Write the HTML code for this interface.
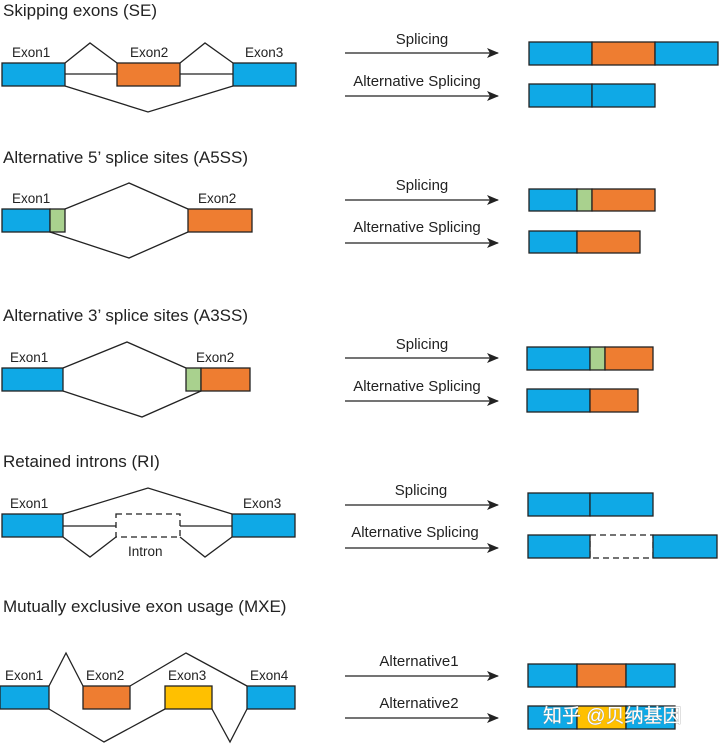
<!DOCTYPE html>
<html><head><meta charset="utf-8"><style>
html,body{margin:0;padding:0;background:#fff}
svg text{font-family:"Liberation Sans",Arial,sans-serif;fill:#222}
</style></head><body>
<svg width="720" height="744" viewBox="0 0 720 744" xmlns="http://www.w3.org/2000/svg">
<defs>
<marker id="ah" markerWidth="12" markerHeight="10" refX="11" refY="5" orient="auto" markerUnits="userSpaceOnUse">
<path d="M0,0 L12,5 L0,10 L3,5 Z" fill="#222"/></marker>
</defs>
<g stroke="#222" stroke-width="1.3" fill="none">
<polyline points="65,63 90,43 117,63"/><polyline points="180,63 205,43 233,63"/>
<line x1="65" y1="74" x2="117" y2="74"/><line x1="180" y1="74" x2="233" y2="74"/>
<polyline points="65,86 148,112 233,86"/>
<polyline points="65,209 129,183 188,209"/><polyline points="50,232 129,258 188,232"/>
<polyline points="63,368 127,342 186,368"/><polyline points="63,391 142,417 201,391"/>
<polyline points="63,514 148,488 232,514"/>
<line x1="63" y1="526" x2="116" y2="526"/><line x1="180" y1="526" x2="232" y2="526"/>
<polyline points="63,537 90,557 116,537"/><polyline points="180,537 205,557 232,537"/>
<rect x="116" y="514" width="64" height="23" stroke-dasharray="6,4"/>
<rect x="590" y="535" width="63" height="23" stroke-dasharray="6,4"/>
<polyline points="49,686 66,653 83,686"/><polyline points="130,686 186,653 247,686"/>
<polyline points="49,709 104,742 165,709"/><polyline points="212,709 230,742 247,709"/>
<g marker-end="url(#ah)">
<line x1="345" y1="53" x2="498" y2="53"/><line x1="345" y1="96" x2="498" y2="96"/>
<line x1="345" y1="200" x2="498" y2="200"/><line x1="345" y1="243" x2="498" y2="243"/>
<line x1="345" y1="358" x2="498" y2="358"/><line x1="345" y1="401" x2="498" y2="401"/>
<line x1="345" y1="505" x2="498" y2="505"/><line x1="345" y1="548" x2="498" y2="548"/>
<line x1="345" y1="676" x2="498" y2="676"/><line x1="345" y1="718" x2="498" y2="718"/>
</g>
</g>
<g stroke="#222" stroke-width="1.3">
<rect x="2" y="63" width="63" height="23" fill="#0fa9e6"/>
<rect x="117" y="63" width="63" height="23" fill="#ee7d31"/>
<rect x="233" y="63" width="63" height="23" fill="#0fa9e6"/>
<rect x="529" y="42" width="63" height="23" fill="#0fa9e6"/><rect x="592" y="42" width="63" height="23" fill="#ee7d31"/><rect x="655" y="42" width="63" height="23" fill="#0fa9e6"/>
<rect x="529" y="84" width="63" height="23" fill="#0fa9e6"/><rect x="592" y="84" width="63" height="23" fill="#0fa9e6"/>
<rect x="2" y="209" width="48" height="23" fill="#0fa9e6"/><rect x="50" y="209" width="15" height="23" fill="#a9d18e"/>
<rect x="188" y="209" width="64" height="23" fill="#ee7d31"/>
<rect x="529" y="189" width="48" height="22" fill="#0fa9e6"/><rect x="577" y="189" width="15" height="22" fill="#a9d18e"/><rect x="592" y="189" width="63" height="22" fill="#ee7d31"/>
<rect x="529" y="231" width="48" height="22" fill="#0fa9e6"/><rect x="577" y="231" width="63" height="22" fill="#ee7d31"/>
<rect x="2" y="368" width="61" height="23" fill="#0fa9e6"/>
<rect x="186" y="368" width="15" height="23" fill="#a9d18e"/><rect x="201" y="368" width="49" height="23" fill="#ee7d31"/>
<rect x="527" y="347" width="63" height="23" fill="#0fa9e6"/><rect x="590" y="347" width="15" height="23" fill="#a9d18e"/><rect x="605" y="347" width="48" height="23" fill="#ee7d31"/>
<rect x="527" y="389" width="63" height="23" fill="#0fa9e6"/><rect x="590" y="389" width="48" height="23" fill="#ee7d31"/>
<rect x="2" y="514" width="61" height="23" fill="#0fa9e6"/><rect x="232" y="514" width="63" height="23" fill="#0fa9e6"/>
<rect x="528" y="493" width="62" height="23" fill="#0fa9e6"/><rect x="590" y="493" width="63" height="23" fill="#0fa9e6"/>
<rect x="528" y="535" width="62" height="23" fill="#0fa9e6"/><rect x="653" y="535" width="64" height="23" fill="#0fa9e6"/>
<rect x="0" y="686" width="49" height="23" fill="#0fa9e6"/><rect x="83" y="686" width="47" height="23" fill="#ee7d31"/>
<rect x="165" y="686" width="47" height="23" fill="#ffc000"/><rect x="247" y="686" width="48" height="23" fill="#0fa9e6"/>
<rect x="528" y="664" width="49" height="23" fill="#0fa9e6"/><rect x="577" y="664" width="49" height="23" fill="#ee7d31"/><rect x="626" y="664" width="49" height="23" fill="#0fa9e6"/>
<rect x="528" y="706" width="49" height="23" fill="#0fa9e6"/><rect x="577" y="706" width="49" height="23" fill="#ffc000"/><rect x="626" y="706" width="49" height="23" fill="#0fa9e6"/>
</g>
<g font-size="17">
<text x="3" y="16">Skipping exons (SE)</text>
<text x="3" y="163">Alternative 5’ splice sites (A5SS)</text>
<text x="3" y="321">Alternative 3’ splice sites (A3SS)</text>
<text x="3" y="467">Retained introns (RI)</text>
<text x="3" y="612">Mutually exclusive exon usage (MXE)</text>
</g>
<g font-size="13.5">
<text x="12" y="57">Exon1</text><text x="130" y="57">Exon2</text><text x="245" y="57">Exon3</text>
<text x="12" y="203">Exon1</text><text x="198" y="203">Exon2</text>
<text x="10" y="362">Exon1</text><text x="196" y="362">Exon2</text>
<text x="10" y="508">Exon1</text><text x="243" y="508">Exon3</text>
<text x="128" y="556">Intron</text>
<text x="5" y="680">Exon1</text><text x="86" y="680">Exon2</text><text x="168" y="680">Exon3</text><text x="250" y="680">Exon4</text>
</g>
<g font-size="15" text-anchor="middle">
<text x="422" y="44">Splicing</text><text x="417" y="86">Alternative Splicing</text>
<text x="422" y="190">Splicing</text><text x="417" y="232">Alternative Splicing</text>
<text x="422" y="349">Splicing</text><text x="417" y="391">Alternative Splicing</text>
<text x="421" y="495">Splicing</text><text x="415" y="537">Alternative Splicing</text>
<text x="419" y="666">Alternative1</text><text x="419" y="708">Alternative2</text>
</g>
<text x="543" y="722" font-size="19" style="fill:#fff;font-family:'Liberation Sans','Noto Sans CJK SC',sans-serif;stroke:#999;stroke-width:0.6;paint-order:stroke">知乎 @贝纳基因</text>
</svg>
</body></html>
